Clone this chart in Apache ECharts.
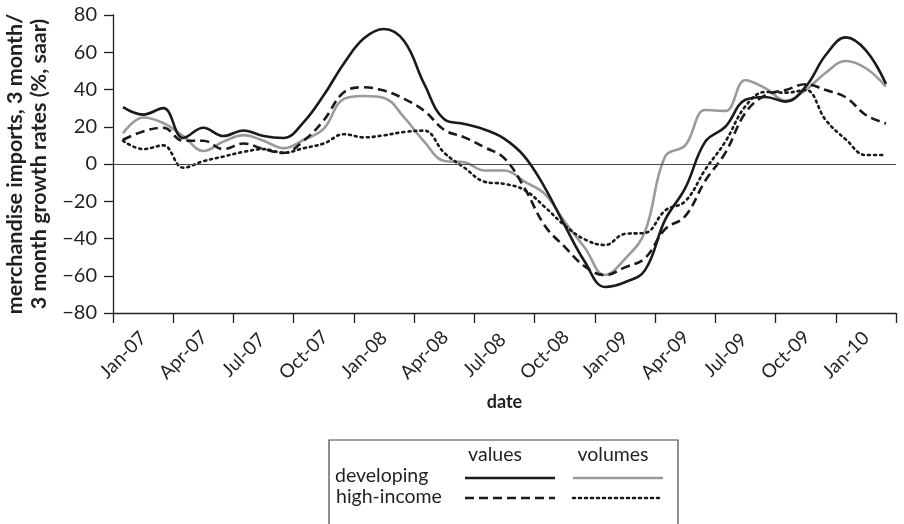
<!DOCTYPE html>
<html>
<head>
<meta charset="utf-8">
<script src="https://cdn.jsdelivr.net/npm/echarts@6/dist/echarts.min.js"></script>
<style>
html,body{margin:0;padding:0;background:#fff;}
#chart{width:904px;height:524px;}
</style>
</head>
<body>
<div id="chart"></div>
<script>
const categories = ["Jan-07","Feb-07","Mar-07","Apr-07","May-07","Jun-07","Jul-07","Aug-07","Sep-07","Oct-07","Nov-07","Dec-07",
  "Jan-08","Feb-08","Mar-08","Apr-08","May-08","Jun-08","Jul-08","Aug-08","Sep-08","Oct-08","Nov-08","Dec-08",
  "Jan-09","Feb-09","Mar-09","Apr-09","May-09","Jun-09","Jul-09","Aug-09","Sep-09","Oct-09","Nov-09","Dec-09",
  "Jan-10","Feb-10","Mar-10"];

const developingValues = [30.5, 26.5, 30, 14, 19.5, 15, 18, 15, 14, 22.5, 37, 54,
  67.5, 72.5, 66, 43, 24, 21.5, 18.5, 13.5, 4, -12.5, -33, -52.5,
  -66, -63.5, -57, -30, -13, 12, 20, 34.5, 36, 33.5, 41.5, 58.5,
  68, 61, 43];

const highIncomeValues = [13, 17.5, 19.5, 12.5, 12.5, 8, 11, 8, 6, 12.5, 23.5, 38.5,
  41.2, 39.4, 35, 28.6, 18.3, 14.3, 9, 3, -13, -33, -44.5, -55,
  -59.6, -55.5, -50.5, -35, -28, -9, 6, 27.5, 37, 39.7, 42.8, 39.7,
  35.8, 26.3, 21.8];

const developingVolumes = [16.5, 25, 22, 15, 7, 12, 15.5, 12.5, 8.5, 13, 19, 35,
  36.5, 35.5, 25, 12, 1.6, 0.9, -3.5, -3.5, -9.5, -16, -31, -45,
  -59.6, -51, -36.3, 4, 10, 29, 28.5, 45, 40.6, 34, 39.7, 49,
  55.3, 51.4, 41.5];

const highIncomeVolumes = [12.5, 8, 10, -2, 1.5, 4, 6.5, 8, 6, 8.5, 11, 16,
  14.3, 15.4, 17.2, 17.9, 6, -2, -9.5, -10.7, -14, -23, -33, -40.5,
  -43.5, -37.5, -37, -25, -20, -3, 12, 31, 38.7, 38.3, 39.7, 23.6,
  13.2, 4.8, 4.8];

const yTicks = { min: -80, max: 80, interval: 20 };

const FONT = 'Lato, "Open Sans", sans-serif';
const INK = '#231f20';

const chart = echarts.init(document.getElementById('chart'), null, {renderer: 'canvas'});

const legendLeft = 329, legendTop = 440;
const option = {
  animation: false,
  backgroundColor: '#fff',
  textStyle: { fontFamily: FONT, color: INK },
  grid: { left: 113, right: 8, top: 15, bottom: 211, containLabel: false, outerBoundsMode: 'none' },
  xAxis: {
    type: 'category',
    data: categories,
    boundaryGap: true,
    name: 'date',
    nameLocation: 'middle',
    nameGap: 80,
    nameTextStyle: { fontFamily: FONT, fontSize: 18, fontWeight: 'bold', color: INK },
    axisLine: { show: true, onZero: false, lineStyle: { color: INK, width: 1.3 } },
    axisTick: { show: true, interval: 2, length: 10, alignWithLabel: false, lineStyle: { color: INK, width: 1.3 } },
    axisLabel: {
      interval: 2, rotate: 45, align: 'center', verticalAlign: 'middle', margin: 42,
      fontFamily: FONT, fontSize: 19, color: INK, hideOverlap: false
    },
    splitLine: { show: false }
  },
  yAxis: {
    type: 'value',
    min: yTicks.min, max: yTicks.max, interval: yTicks.interval,
    name: 'merchandise imports, 3 month/\n3 month growth rates (%, saar)',
    nameLocation: 'middle',
    nameRotate: 90,
    nameGap: 52,
    nameTextStyle: { fontFamily: FONT, fontSize: 21.5, fontWeight: 'bold', color: INK, lineHeight: 24 },
    axisLine: { show: true, lineStyle: { color: INK, width: 1.3 } },
    axisTick: { show: true, length: 9, lineStyle: { color: INK, width: 1.3 } },
    axisLabel: {
      fontFamily: FONT, fontSize: 20, color: INK, margin: 16,
      formatter: v => String(v).replace('-', '\u2212')
    },
    splitLine: { show: false }
  },
  series: [
    {
      name: 'developing values', type: 'line', data: developingValues,
      smooth: 0.4, symbol: 'none',
      lineStyle: { color: '#1a1a1a', width: 2.6 },
      z: 5,
      markLine: {
        silent: true, symbol: 'none', label: { show: false },
        lineStyle: { color: '#4a4a4a', width: 1.2, type: 'solid' },
        data: [{ yAxis: 0 }]
      }
    },
    {
      name: 'high-income values', type: 'line', data: highIncomeValues,
      smooth: 0.4, symbol: 'none',
      lineStyle: { color: '#1a1a1a', width: 2.6, type: [9, 5] },
      z: 4
    },
    {
      name: 'developing volumes', type: 'line', data: developingVolumes,
      smooth: 0.4, symbol: 'none',
      lineStyle: { color: '#9a9a9a', width: 2.6 },
      z: 3
    },
    {
      name: 'high-income volumes', type: 'line', data: highIncomeVolumes,
      smooth: 0.4, symbol: 'none',
      lineStyle: { color: '#1a1a1a', width: 2.6, type: [2, 4], cap: 'round' },
      z: 3
    }
  ],
  graphic: [
    { type: 'rect', shape: { x: legendLeft, y: legendTop, width: 349, height: 110 },
      style: { fill: '#fff', stroke: '#444', lineWidth: 1.2 }, z: 10 },
    { type: 'text', x: 495, y: 455, z: 11,
      style: { text: 'values', font: '19.5px ' + FONT, fill: INK, textAlign: 'center', textVerticalAlign: 'middle' } },
    { type: 'text', x: 613, y: 455, z: 11,
      style: { text: 'volumes', font: '19.5px ' + FONT, fill: INK, textAlign: 'center', textVerticalAlign: 'middle' } },
    { type: 'text', x: 335, y: 476, z: 11,
      style: { text: 'developing', font: '19.5px ' + FONT, fill: INK, textAlign: 'left', textVerticalAlign: 'middle' } },
    { type: 'text', x: 336, y: 497, z: 11,
      style: { text: 'high-income', font: '19.5px ' + FONT, fill: INK, textAlign: 'left', textVerticalAlign: 'middle' } },
    { type: 'line', z: 11, shape: { x1: 465, y1: 478, x2: 555, y2: 478 },
      style: { stroke: '#1a1a1a', lineWidth: 2.6 } },
    { type: 'line', z: 11, shape: { x1: 573, y1: 478, x2: 663, y2: 478 },
      style: { stroke: '#9a9a9a', lineWidth: 2.6 } },
    { type: 'line', z: 11, shape: { x1: 465, y1: 498, x2: 555, y2: 498 },
      style: { stroke: '#1a1a1a', lineWidth: 2.6, lineDash: [9, 5] } },
    { type: 'line', z: 11, shape: { x1: 573, y1: 498, x2: 663, y2: 498 },
      style: { stroke: '#1a1a1a', lineWidth: 2.6, lineDash: [2, 4], lineCap: 'round' } }
  ]
};
chart.setOption(option);
</script>
</body>
</html>
